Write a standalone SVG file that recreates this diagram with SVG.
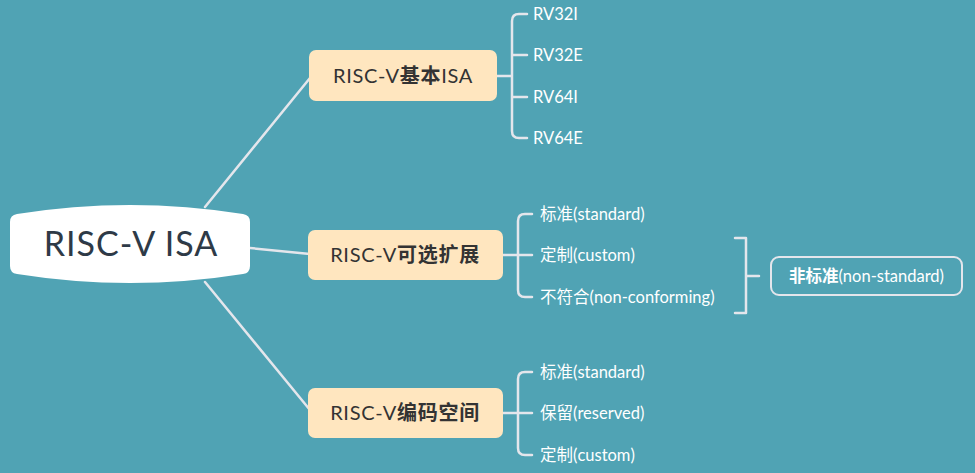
<svg xmlns="http://www.w3.org/2000/svg" width="975" height="473" viewBox="0 0 975 473">
<style>
.bg{fill:#50A3B4}
.c{fill:none;stroke:#E4E6EC;stroke-width:2.5;stroke-linecap:round;stroke-linejoin:round}
.main{fill:#FFE6BF}
.mt{font-family:Lato,"Noto Sans","Noto Sans CJK SC",sans-serif;font-size:20px;letter-spacing:0.7px;fill:#333333;text-anchor:middle}
.b{font-weight:bold}
.lt{font-family:Lato,"Noto Sans","Noto Sans CJK SC",sans-serif;font-size:16.5px;fill:#FFFFFF}
.rt{font-family:Lato,"Noto Sans",sans-serif;font-size:34px;letter-spacing:1px;fill:#2E3A47;text-anchor:middle}
</style>
<rect class="bg" x="0" y="0" width="975" height="473"/>
<g id="connectors">
<path class="c" d="M205,207 L310,78"/>
<path class="c" d="M250,248 L310,254"/>
<path class="c" d="M205,282 L310,410"/>
<path class="c" d="M497,76 L512,76 M527,14 L519,14 Q512,14 512,21 L512,131 Q512,138 519,138 L527,138 M512,55 Q512,55 519,55 L527,55 M512,97 L527,97"/>
<path class="c" d="M503,255 L532,255 M532,214 L525,214 Q518,214 518,221 L518,290 Q518,297 525,297 L532,297"/>
<path class="c" d="M503,413 L532,413 M532,372 L525,372 Q518,372 518,379 L518,448 Q518,455 525,455 L532,455"/>
<path class="c" d="M735,238 L746,238 L746,313 L735,313 M746,276 L759,276"/>
</g>
<g id="root">
<path d="M10,222 Q10,215 17,214 Q130,196 243,214 Q250,215 250,222 L250,266 Q250,273 243,274 Q130,292 17,274 Q10,273 10,266 Z" fill="#FFFFFF"/>
<text class="rt" x="131" y="256">RISC-V ISA</text>
</g>
<g id="n1">
<rect class="main" x="309" y="50" width="188" height="51" rx="7"/>
<text class="mt" x="403" y="83">RISC-V<tspan class="b">基本</tspan>ISA</text>
</g>
<g id="n2">
<rect class="main" x="308" y="230" width="195" height="50" rx="7"/>
<text class="mt" x="405" y="262">RISC-V<tspan class="b">可选扩展</tspan></text>
</g>
<g id="n3">
<rect class="main" x="308" y="388" width="195" height="50" rx="7"/>
<text class="mt" x="405" y="420">RISC-V<tspan class="b">编码空间</tspan></text>
</g>
<g id="l1"><text class="lt" x="533" y="20">RV32I</text></g>
<g id="l2"><text class="lt" x="533" y="61">RV32E</text></g>
<g id="l3"><text class="lt" x="533" y="103">RV64I</text></g>
<g id="l4"><text class="lt" x="533" y="144">RV64E</text></g>
<g id="l5"><text class="lt" x="540" y="220">标准(standard)</text></g>
<g id="l6"><text class="lt" x="540" y="261">定制(custom)</text></g>
<g id="l7"><text class="lt" x="540" y="303">不符合(non-conforming)</text></g>
<g id="l8"><text class="lt" x="540" y="378">标准(standard)</text></g>
<g id="l9"><text class="lt" x="540" y="419">保留(reserved)</text></g>
<g id="l10"><text class="lt" x="540" y="461">定制(custom)</text></g>
<g id="ns">
<rect x="771" y="257" width="191" height="38" rx="8" fill="none" stroke="#E4E6EC" stroke-width="2"/>
<text class="lt" x="866.5" y="282" text-anchor="middle"><tspan class="b">非标准</tspan>(non-standard)</text>
</g>
</svg>
